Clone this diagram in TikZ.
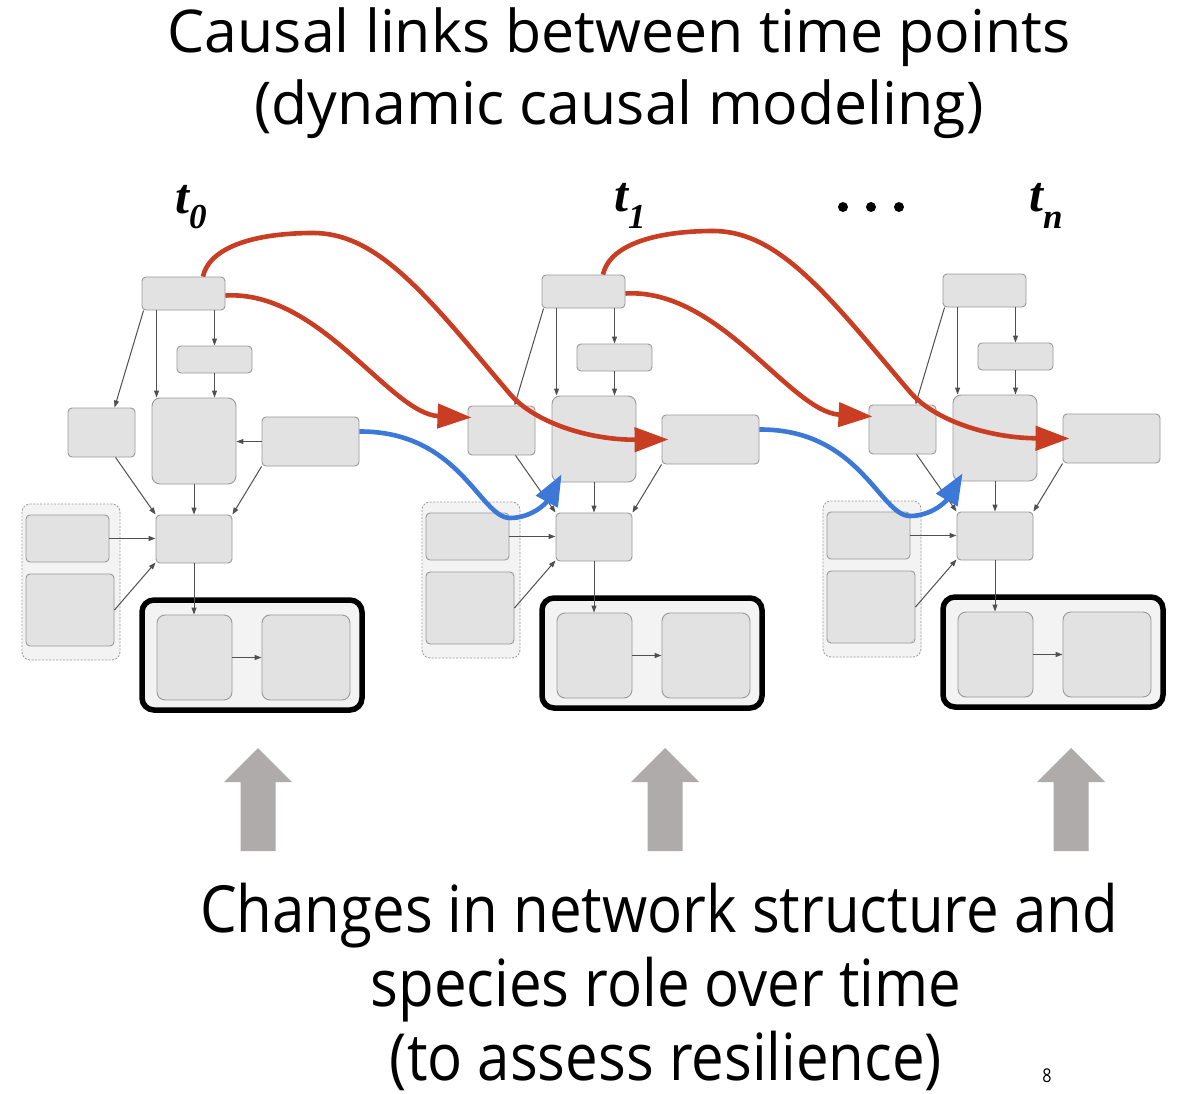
\documentclass[tikz,border=0pt]{standalone}
\usepackage{fontspec}
\setmainfont{Open Sans}
\newfontfamily\tfont{Liberation Serif}
\usetikzlibrary{arrows.meta}
\definecolor{boxfill}{HTML}{E2E2E2}
\definecolor{boxdraw}{HTML}{999999}
\definecolor{grpfill}{HTML}{F3F3F3}
\definecolor{linkred}{HTML}{C93D22}
\definecolor{linkblue}{HTML}{3B78D8}
\definecolor{upgray}{HTML}{AEABAA}
\definecolor{edgegray}{HTML}{505050}
\tikzset{
  sz/.style 2 args={minimum width=#1pt, minimum height=#2pt},
  bx/.style={draw=boxdraw, fill=boxfill, rounded corners=4pt, line width=0.9pt, inner sep=0pt},
  bigbx/.style={bx, rounded corners=8pt},
  grp/.style={draw=boxdraw, fill=grpfill, dash pattern=on 2pt off 1.5pt, rounded corners=8pt, line width=0.8pt, inner sep=0pt},
  outer/.style={draw=black, fill=grpfill, line width=5.5pt, rounded corners=12pt, inner sep=0pt},
  ed/.style={draw=edgegray, line width=1pt, -{Triangle[length=7pt,width=5pt]}},
  redlink/.style={draw=linkred, line width=4.6pt, -{Triangle[length=34pt,width=24pt]}},
  bluelink/.style={draw=linkblue, line width=4.6pt, -{Triangle[length=31pt,width=24pt]}},
  tlabel/.style={anchor=base west, inner sep=0pt, font=\tfont\bfseries\itshape\fontsize{50}{50}\selectfont},
  bigtext/.style={anchor=base, inner sep=0pt, font=\fontsize{59}{59}\selectfont},
  lowtext/.style={anchor=base, inner sep=0pt, font=\fontsize{65}{65}\selectfont},
  uparrow/.style={fill=upgray},
}
\newcommand\drawpanel[3]{%
\begin{scope}[shift={(#2,#3)}]
  \node[grp, sz={98}{156}] (#1G) at (71,582) {};
  \node[bx, sz={83}{47}] (#1G1) at (67.5,538.5) {};
  \node[bx, sz={88}{72}] (#1G2) at (70,610) {};
  \node[outer, sz={220}{110}] (#1H) at (252,655) {};
  \node[bigbx, sz={75}{85}] (#1H1) at (194.5,657.5) {};
  \node[bigbx, sz={88}{85}] (#1H2) at (306,657.5) {};
  \node[bx, sz={83}{33}] (#1A) at (183.5,293.5) {};
  \node[bx, sz={75}{27}] (#1B) at (214.5,359.5) {};
  \node[bx, sz={67}{49}] (#1C) at (101.5,432.5) {};
  \node[bigbx, sz={84}{86}] (#1D) at (194,441) {};
  \node[bx, sz={97}{49}] (#1E) at (310.5,441.5) {};
  \node[bx, sz={76}{48}] (#1F) at (194,539) {};
\end{scope}
  \draw[ed] ([xshift=2pt]#1A.south west) -- ([xshift=47pt]#1C.north west);
  \draw[ed] ([xshift=15pt]#1A.south west) -- ([xshift=5pt]#1D.north west);
  \draw[ed] (#1A.south -| #1B.north) -- (#1B.north);
  \draw[ed] (#1B.south) -- (#1B.south |- #1D.north);
  \draw[ed] (#1E.west) -- (#1E.west -| #1D.east);
  \draw[ed] ([xshift=48pt]#1C.south west) -- (#1F.north west);
  \draw[ed] (#1D.south) -- (#1F.north);
  \draw[ed] (#1E.south west) -- (#1F.north east);
  \draw[ed, line width=1.4pt] (#1G1.east) -- (#1G1.east -| #1F.west);
  \draw[ed] (#1G2.east) -- ([yshift=1pt]#1F.south west);
  \draw[ed] (#1F.south) -- (#1F.south |- #1H1.north);
  \draw[ed, line width=1.3pt] (#1H1.east) -- (#1H2.west);
}
\newcommand\drawlinks[4]{%
\begin{scope}[shift={(#3,#4)}]
  \draw[redlink] ([xshift=19.5pt]#1A.north) .. controls (210,245) and (260,233) .. (313,233)
     .. controls (380,233) and (430,300) .. (510,394)
     .. controls (535,423) and (590,440) .. ([xshift=7pt]#2E.west);
  \draw[redlink] ([yshift=-2pt]#1A.east) .. controls (320,290) and (390,414) .. ([xshift=4pt,yshift=13pt]#2C.west);
  \draw[bluelink] ([yshift=10pt]#1E.east) .. controls (460,431) and (480,518) .. (510,518)
     .. controls (530,518) and (545,505) .. ([xshift=10pt,yshift=8pt]#2D.south west);
\end{scope}
}
\begin{document}
\begin{tikzpicture}[x=1pt,y=-1pt]
  \fill[white] (0,0) rectangle (1181,1094);
  \useasboundingbox (0,0) rectangle (1181,1094);
  % titles
  \node[bigtext] (title1) at (619,53) {Causal links between time points};
  \node[bigtext] (title2) at (619,125) {(dynamic causal modeling)};
  % time labels
  \node[tlabel] (t0) at (175,214) {t\raisebox{-15pt}{\fontsize{35}{35}\selectfont 0}};
  \node[tlabel] (t1) at (614,212) {t\raisebox{-17pt}{\fontsize{35}{35}\selectfont 1}};
  \node[tlabel] (tn) at (1029,212) {t\raisebox{-17pt}{\fontsize{35}{35}\selectfont n}};
  \fill (843,207) circle[radius=5pt] (871,207) circle[radius=5pt] (899,207) circle[radius=5pt];
  % panels
  \drawpanel{p0}{0}{0}
  \drawpanel{p1}{400}{-2}
  \drawpanel{p2}{801}{-3}
  % links
  \drawlinks{p0}{p1}{0}{0}
  \drawlinks{p1}{p2}{400}{-2}
  % up arrows
  \foreach \cx in {258,665,1071}{
    \fill[uparrow] (\cx-34,782) -- (\cx,748) -- (\cx+34,782) -- (\cx+17.5,782) -- (\cx+17.5,851) -- (\cx-17.5,851) -- (\cx-17.5,782) -- cycle;
  }
  % bottom text
  \node[lowtext] (b1) at (659,932) {\scalebox{0.895}[1]{Changes in network structure and}};
  \node[lowtext] (b2) at (666,1006) {\scalebox{0.895}[1]{species role over time}};
  \node[lowtext] (b3) at (666,1080) {\scalebox{0.895}[1]{(to assess resilience)}};
  \node[anchor=base, inner sep=0pt, font=\fontsize{19}{19}\selectfont] (pg) at (1047,1082) {\scalebox{0.85}[1]{8}};
\end{tikzpicture}
\end{document}
